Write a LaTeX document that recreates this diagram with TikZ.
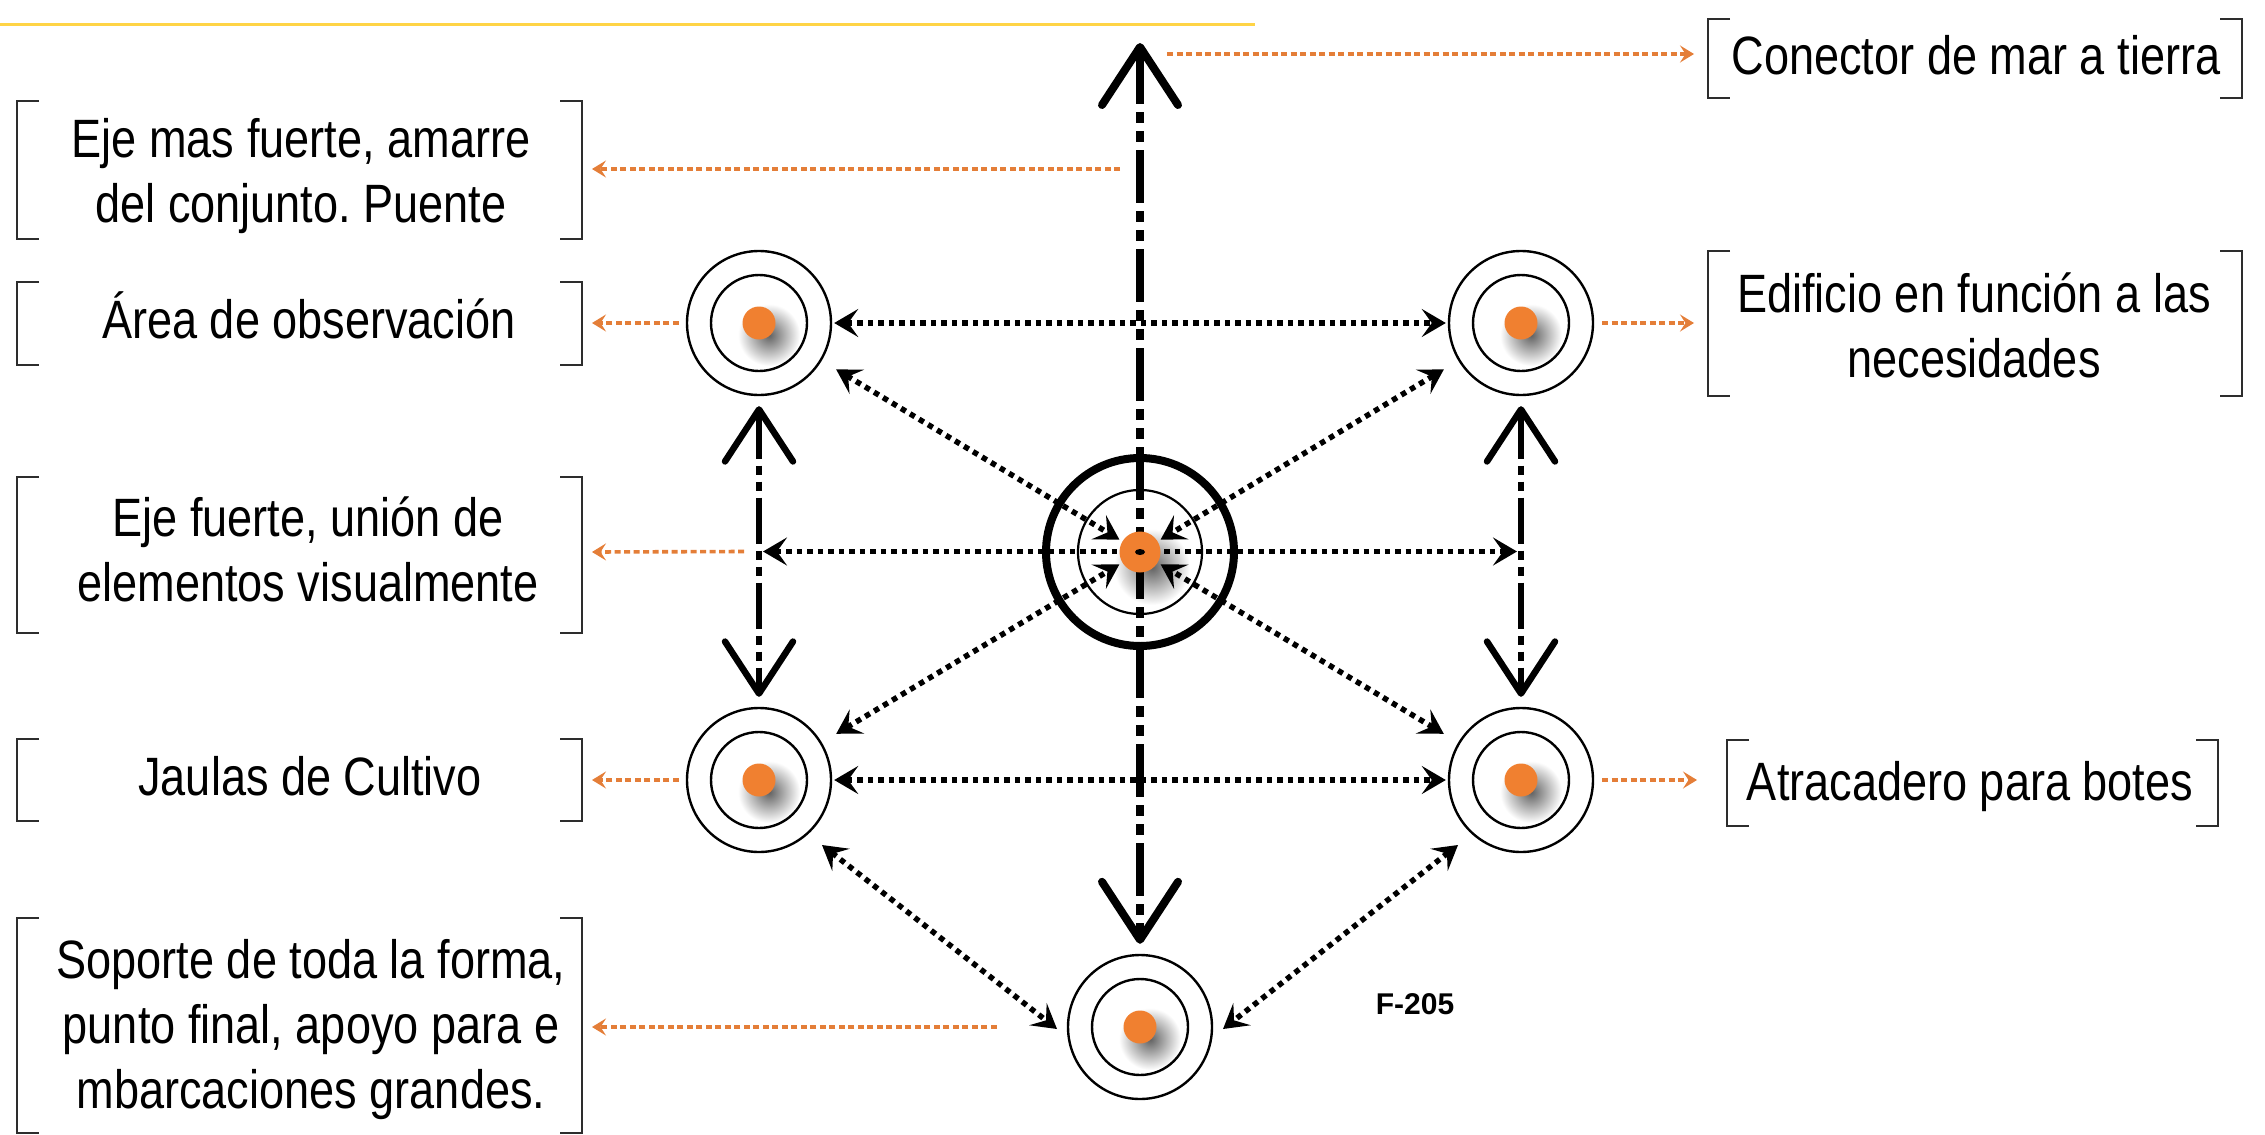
\documentclass[tikz,border=0pt]{standalone}
\usepackage{fontspec}
\setmainfont{Liberation Sans}
\newfontfamily\condf{Liberation Sans}[FakeStretch=0.835]
\usetikzlibrary{arrows.meta,calc}
\pgfdeclarelayer{bg}
\pgfdeclarelayer{fg}
\pgfsetlayers{bg,main,fg}
\definecolor{ylw}{RGB}{255,212,70}
\definecolor{orgdot}{RGB}{240,128,48}
\definecolor{orgln}{RGB}{228,126,56}
\definecolor{brk}{RGB}{45,45,45}
\frenchspacing
\begin{document}
\begin{tikzpicture}[x=1pt,y=-1pt,
  ring/.style={circle,draw=black,line width=2.4pt,minimum size=144pt,inner sep=0pt},
  hubring/.style={circle,draw=black,line width=8pt,minimum size=188pt,inner sep=0pt},
  lbl/.style={font=\condf\fontsize{54}{65}\selectfont,align=center,inner sep=0pt},
  dotln/.style={line width=5.5pt,dash pattern=on 5.5pt off 5pt,
     arrows={Stealth[length=24pt,width=28pt,inset=10pt]-Stealth[length=24pt,width=28pt,inset=10pt]}},
  axmain/.style={line width=8pt,dash pattern=on 53pt off 8pt on 11pt off 8pt on 11pt off 8pt,
     arrows={Straight Barb[length=58pt,width=76pt,round]-Straight Barb[length=58pt,width=76pt,round]}},
  axside/.style={line width=6.5pt,dash pattern=on 46pt off 7pt on 9pt off 7pt on 9pt off 7pt,
     arrows={Straight Barb[length=52pt,width=68pt,round]-Straight Barb[length=52pt,width=68pt,round]}},
  orgarr/.style={draw=orgln,line width=3.6pt,dash pattern=on 6pt off 3.5pt,
     arrows={-Stealth[length=14pt,width=17pt,inset=5.5pt]}},
  brkln/.style={draw=brk,line width=2pt},
  shadowdisk/.style={inner color=black!62,outer color=white}
]
\useasboundingbox (0,0) rectangle (2265,1135);

% yellow rule
\coordinate (yl) at (0,24);
\coordinate (yr) at (1255,24);
\draw[ylw,line width=3pt] (yl) -- (yr);

% rings
\node[ring] (tl) at (759,323) {};
\node[ring] (tr) at (1521,323) {};
\node[ring] (bl) at (759,780) {};
\node[ring] (br) at (1521,780) {};
\node[ring] (bt) at (1140,1027) {};
\node[hubring] (hub) at (1140,552) {};
\foreach \n in {tl,tr,bl,br,bt}{
  \draw[line width=2.4pt] (\n) circle[radius=48pt];
}
\draw[line width=2.2pt] (hub) circle[radius=62pt];

% shadows
\begin{pgfonlayer}{bg}
\foreach \n in {tl,tr,bl,br,bt}{
  \shade[shadowdisk] ($(\n)+(10,12)$) circle[radius=31pt];
}
\shade[shadowdisk] ($(hub)+(12,15)$) circle[radius=38pt];
\end{pgfonlayer}

% axes
\coordinate (mtop) at (1140,43);
\coordinate (mbot) at ($(bt.north)+(0,-10)$);
\draw[axmain] (mtop) -- (mbot);
\coordinate (lt) at ($(tl.south)+(0,10)$);
\coordinate (lb) at ($(bl.north)+(0,-10)$);
\coordinate (rt) at ($(tr.south)+(0,10)$);
\coordinate (rb) at ($(br.north)+(0,-10)$);
\draw[axside] (lt) -- (lb);
\draw[axside] (rt) -- (rb);

% dotted connectors
\draw[dotln] ($(tl.east)+(2,0)$) -- ($(tr.west)+(-2,0)$);
\draw[dotln] ($(bl.east)+(2,0)$) -- ($(br.west)+(-2,0)$);
\coordinate (lmid) at ($(lt)!0.5!(lb)+(4,0)$);
\coordinate (rmid) at ($(rt)!0.5!(rb)+(-4,0)$);
\draw[dotln] (lmid) -- (rmid);
\foreach \n in {tl,tr,bl,br}{
  \draw[dotln] ($(\n)!90pt!(hub)$) -- ($(hub)!24pt!(\n)$);
}
\coordinate (blq) at ($(bl)+(63,65)$);
\coordinate (btl) at ($(bt)+(-83,2)$);
\coordinate (brq) at ($(br)+(-63,65)$);
\coordinate (btr) at ($(bt)+(83,2)$);
\draw[dotln] (blq) -- (btl);
\draw[dotln] (brq) -- (btr);

% orange dots
\begin{pgfonlayer}{fg}
\foreach \n in {tl,tr,bl,br,bt}{
  \fill[orgdot] (\n) circle[radius=16.5pt];
}
\fill[orgdot] (hub) circle[radius=20.5pt];
\fill[black] (hub) ellipse[x radius=5pt,y radius=3pt];
\end{pgfonlayer}

% labels
\node[lbl] (L1) at (301,176) {Eje mas fuerte, amarre\\del conjunto. Puente};
\node[lbl] (L2) at (309,315) {Área de observación};
\node[lbl] (L3) at (308,549) {Eje fuerte, unión de\\elementos visualmente};
\node[lbl] (L4) at (310,776) {Jaulas de Cultivo};
\node[lbl] (L5) at (311,1030) {Soporte de toda la forma,\\punto final, apoyo para e\\mbarcaciones grandes.};
\node[lbl] (R1) at (1976,55) {Conector de mar a tierra};
\node[lbl] (R2) at (1974,325) {Edificio en función a las\\necesidades};
\node[lbl] (R3) at (1970,787) {Atracadero para botes};
\node[font=\bfseries\fontsize{30}{36}\selectfont,inner sep=0pt] (F) at (1415,1004) {F-205};

% brackets
\foreach \t/\b in {101/239,282/365,477/633,739/821,918/1133}{
  \draw[brkln] (39,\t) -- (17,\t) -- (17,\b) -- (39,\b);
  \draw[brkln] (560,\t) -- (582,\t) -- (582,\b) -- (560,\b);
}
\foreach \l/\r/\t/\b in {1708/2242/19/98,1708/2242/251/396,1727/2218/740/826}{
  \draw[brkln] (\l+22,\t) -- (\l,\t) -- (\l,\b) -- (\l+22,\b);
  \draw[brkln] (\r-22,\t) -- (\r,\t) -- (\r,\b) -- (\r-22,\b);
}

% orange leaders
\coordinate (o1a) at ($(mtop)+(27,11)$);   \coordinate (o1b) at (1694,54);
\coordinate (o2a) at (1120,169);            \coordinate (o2b) at (592,169);
\coordinate (o3a) at ($(tl.west)+(-7,0)$);  \coordinate (o3b) at (592,323);
\coordinate (o4a) at ($(lmid)+(-19,0)$);    \coordinate (o4b) at (592,552);
\coordinate (o5a) at ($(bl.west)+(-7,0)$);  \coordinate (o5b) at (592,780);
\coordinate (o6a) at ($(bt.west)+(-70,0)$); \coordinate (o6b) at (592,1027);
\coordinate (o7a) at ($(tr.east)+(8,0)$);   \coordinate (o7b) at (1694,323);
\coordinate (o8a) at ($(br.east)+(8,0)$);   \coordinate (o8b) at (1697,780);
\foreach \i in {1,...,8}{
  \draw[orgarr] (o\i a) -- (o\i b);
}
\end{tikzpicture}
\end{document}
